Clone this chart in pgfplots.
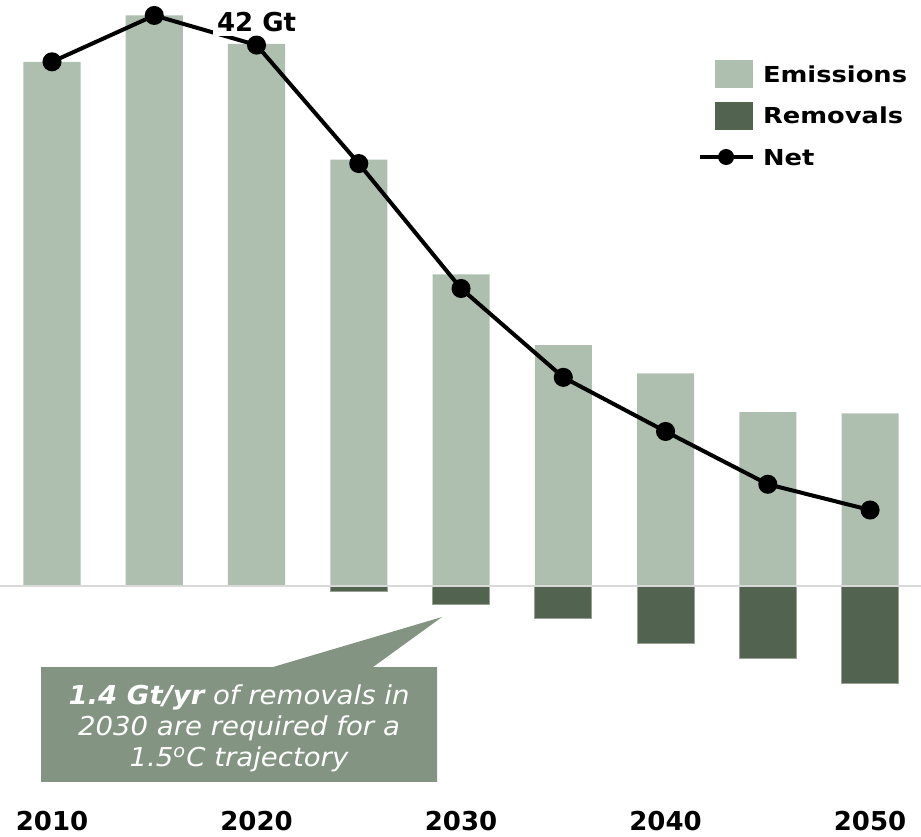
\documentclass[border=0pt]{standalone}
\usepackage{pgfplots}
\usepackage{pgfplotstable}
\pgfplotsset{compat=1.18}
\usepackage{graphicx}
\usepackage{fontspec}
\setmainfont{DejaVu Sans}[
  BoldFont={DejaVu Sans Bold},
  ItalicFont={DejaVu Sans Oblique},
  BoldItalicFont={DejaVu Sans Bold Oblique}]

\definecolor{emis}{HTML}{AEBFAF}
\definecolor{remv}{HTML}{526450}
\definecolor{remvedge}{HTML}{97A295}
\definecolor{callout}{HTML}{849483}
\definecolor{zeroline}{HTML}{D9D9D9}

% Gt CO2 per year
\pgfplotstableread{
year emissions removals net
2010 40.7  0.00  40.7
2015 44.3  0.00  44.3
2020 42.1 -0.05  42.0
2025 33.1 -0.40  32.8
2030 24.2 -1.40  23.1
2035 18.7 -2.50  16.2
2040 16.5 -4.45  12.0
2045 13.5 -5.60   7.9
2050 13.4 -7.60   5.9
}\datatable

\begin{document}
\begin{tikzpicture}
\begin{axis}[
  name=ax,
  scale only axis,
  width=460.5pt, height=400pt,
  xmin=2007.457, xmax=2052.49,
  ymin=-16.615, ymax=45.5,
  clip=false,
  axis line style={draw=none},
  major tick length=0pt,
  ytick=\empty,
  xtick={2010,2020,2030,2040,2050},
  xticklabels={2010,2020,2030,2040,2050},
  xticklabel style={anchor=north, inner sep=0pt, yshift=-5.25pt,
    font=\fontsize{13}{15}\selectfont\bfseries},
  bar width=2.79,
  legend cell align=left,
  legend style={
    at={(axis cs:2041.59,40.84)}, anchor=north west,
    draw=none, fill=none, inner sep=0pt, outer sep=0pt,
    row sep=6.75pt, column sep=4pt,
    nodes={inner sep=0pt, text depth=0pt},
    font=\fontsize{11}{13}\selectfont\bfseries},
]
\addplot[ybar, bar shift=0pt, fill=emis, draw=none,
  legend image code/.code={
    \path[draw=none, fill=none] (0pt,-7pt) rectangle (26.5pt,7pt);
    \fill[emis, draw=none] (7.5pt,-7pt) rectangle (26.5pt,7pt);}]
  table[x=year, y=emissions]{\datatable};
\addlegendentry{\scalebox{1.17}[1]{Emissions}}

\addplot[ybar, bar shift=0pt, fill=remv, draw=remvedge, line width=0.5pt,
  legend image code/.code={
    \path[draw=none, fill=none] (0pt,-7pt) rectangle (26.5pt,7pt);
    \fill[remv, draw=none] (7.5pt,-7pt) rectangle (26.5pt,7pt);}]
  table[x=year, y=removals]{\datatable};
\addlegendentry{\scalebox{1.17}[1]{Removals}}

\addplot[zeroline, line width=1pt, forget plot]
  coordinates {(2007.457,0) (2052.49,0)};

\addplot[black, line width=2pt, mark=*, mark size=3.75pt,
  legend image code/.code={
    \path[draw=none, fill=none] (0pt,-7pt) rectangle (26.5pt,7pt);
    \draw[black, line width=2pt] (0pt,0pt) -- (26.5pt,0pt);
    \fill[black, draw=none] (13pt,0pt) circle (4pt);}]
  table[x=year, y=net]{\datatable};
\addlegendentry{\scalebox{1.17}[1]{Net}}

\node[anchor=south, fill=white, inner sep=2pt, yshift=4.5pt,
  font=\fontsize{13}{15}\selectfont\bfseries] at (axis cs:2020,42) {42 Gt};

% callout pointing at the 2030 removals bar
\fill[callout] (axis cs:2009.462,-6.289) -- (axis cs:2020.807,-6.289)
  -- (axis cs:2029.071,-2.407) -- (axis cs:2025.697,-6.289)
  -- (axis cs:2028.826,-6.289) -- (axis cs:2028.826,-15.217)
  -- (axis cs:2009.462,-15.217) -- cycle;
\node[text=white, inner sep=0pt, font=\fontsize{13}{15.5}\selectfont\itshape]
  at (axis cs:2019.144,-11.1)
  {\scalebox{1.06}[1]{\begin{tabular}{@{}c@{}}
    \textbf{1.4 Gt/yr} of removals in\\
    2030 are required for a\\
    1.5\textsuperscript{o}C trajectory
  \end{tabular}}};
\end{axis}
\pgfresetboundingbox
\path[use as bounding box] (ax.north west) rectangle ([yshift=-18pt]ax.south east);
\end{tikzpicture}
\end{document}
